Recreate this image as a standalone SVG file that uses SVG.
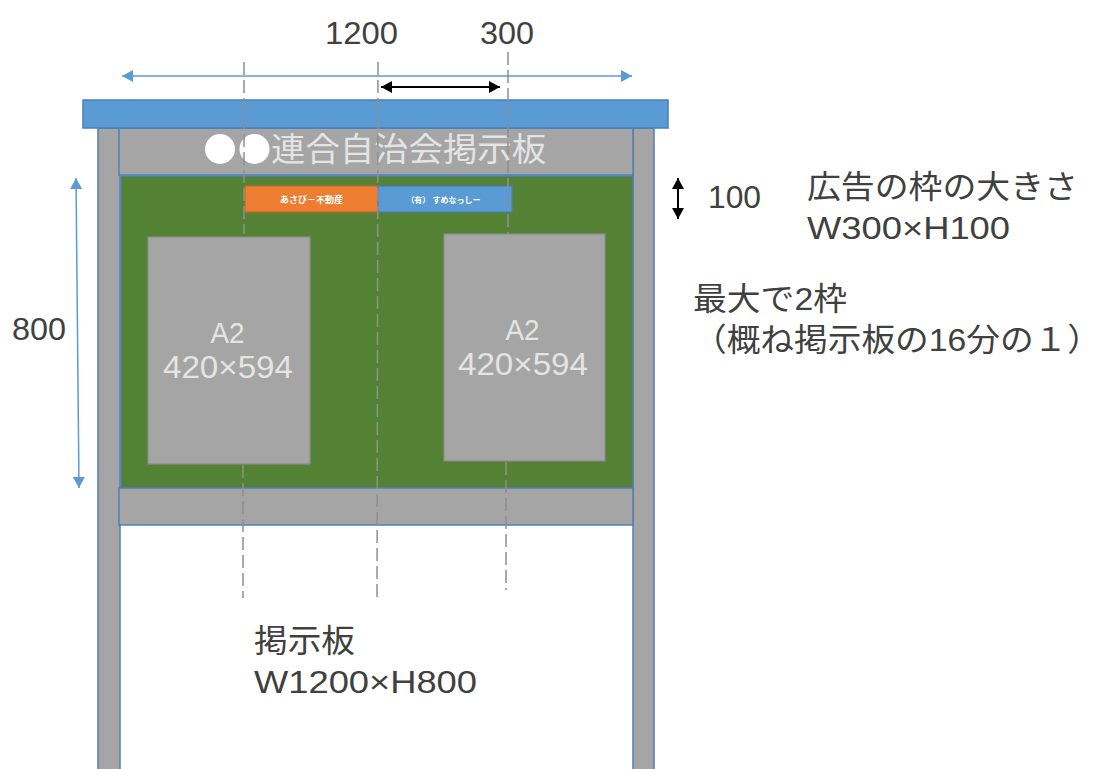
<svg xmlns="http://www.w3.org/2000/svg" width="1093" height="769" viewBox="0 0 1093 769">
<style>
text{font-family:"Liberation Sans","Noto Sans CJK JP",sans-serif}
.p{fill:#a5a5a5;stroke:#4f7fb5;stroke-width:1.5}
.a{fill:#a5a5a5;stroke:#8c8c8c;stroke-width:1.2}
.d{fill:none;stroke:#8f8f8f;stroke-width:1.5;stroke-dasharray:13 5}
.b{fill:none;stroke:#5b9bd5;stroke-width:1.5}
.k{fill:none;stroke:#000;stroke-width:2}
.t{font-size:32px;fill:#404040}
.w{fill:#e4e4e4}
</style>
<defs>
<marker id="bl" markerUnits="userSpaceOnUse" markerWidth="12" markerHeight="12" refX="11" refY="6" orient="auto-start-reverse"><path d="M0 0L11 6L0 12Z" fill="#5b9bd5"/></marker>
<marker id="ka" markerUnits="userSpaceOnUse" markerWidth="12" markerHeight="12" refX="11" refY="6" orient="auto-start-reverse"><path d="M0 0L11 6L0 12Z" fill="#000"/></marker>
</defs>
<rect width="1093" height="769" fill="#fff"/>
<g id="post-left"><rect class="p" x="98" y="128" width="22" height="650"/></g>
<g id="post-right"><rect class="p" x="633" y="128" width="21" height="650"/></g>
<g id="board"><rect x="121" y="176" width="512" height="313" fill="#548235" stroke="#4f7fb5" stroke-width="1.5"/></g>
<g id="header"><rect class="p" x="119" y="128" width="514" height="47"/>
<circle cx="220" cy="149" r="15" fill="#fff"/><circle cx="254.500" cy="149" r="15" fill="#fff"/>
<text x="271" y="161" font-size="33" fill="#e4e4e4" textLength="275" lengthAdjust="spacingAndGlyphs">連合自治会掲示板</text></g>
<g id="roof"><rect x="83" y="100" width="585" height="28" fill="#5b9bd5" stroke="#4a7fb5" stroke-width="1.5"/></g>
<g id="footer"><rect class="p" x="119" y="488" width="514" height="37"/></g>
<g id="ad-orange"><rect x="245" y="186" width="133" height="26" fill="#ed7d31" stroke="#c8692a" stroke-width="1.2"/>
<text x="311.500" y="202.500" font-size="9" font-weight="700" fill="#fff" text-anchor="middle">あさび－不動産</text></g>
<g id="ad-blue"><rect x="378" y="186" width="134" height="26" fill="#5b9bd5" stroke="#4a7fb5" stroke-width="1.2"/>
<text x="443.500" y="202.500" font-size="8" font-weight="700" fill="#fff" text-anchor="middle">（有） すめなっしー</text></g>
<g id="poster-left"><rect class="a" x="148" y="237" width="162" height="227"/>
<text class="w" font-size="30" x="227.500" y="343" text-anchor="middle" textLength="34" lengthAdjust="spacingAndGlyphs">A2</text><text class="w" font-size="31" x="228" y="378" text-anchor="middle" textLength="130" lengthAdjust="spacingAndGlyphs">420×594</text></g>
<g id="poster-right"><rect class="a" x="444" y="234" width="161" height="227"/>
<text class="w" font-size="30" x="522.500" y="340" text-anchor="middle" textLength="34" lengthAdjust="spacingAndGlyphs">A2</text><text class="w" font-size="31" x="523" y="375" text-anchor="middle" textLength="130" lengthAdjust="spacingAndGlyphs">420×594</text></g>
<g id="connectors">
<path class="d" d="M244 62V234"/><path class="d" d="M243 465V598"/>
<path class="d" d="M378 62L377 598"/>
<path class="d" d="M508 52V234"/><path class="d" d="M506 462V590"/>
<path class="b" d="M122 76H632" marker-start="url(#bl)" marker-end="url(#bl)"/>
<path class="b" d="M76 178L79 488" marker-start="url(#bl)" marker-end="url(#bl)"/>
<path class="k" d="M381 87H500" marker-start="url(#ka)" marker-end="url(#ka)"/>
<path class="k" d="M678 178V219" marker-start="url(#ka)" marker-end="url(#ka)"/>
</g>
<g id="labels">
<text class="t" x="325" y="44" textLength="73" lengthAdjust="spacingAndGlyphs">1200</text>
<text class="t" x="480" y="44" textLength="54" lengthAdjust="spacingAndGlyphs">300</text>
<text class="t" x="12" y="340" textLength="54" lengthAdjust="spacingAndGlyphs">800</text>
<text class="t" x="708" y="208" textLength="53" lengthAdjust="spacingAndGlyphs">100</text>
<text class="t" x="807" y="198" textLength="271" lengthAdjust="spacingAndGlyphs">広告の枠の大きさ</text>
<text class="t" x="807" y="239" textLength="203" lengthAdjust="spacingAndGlyphs">W300×H100</text>
<text class="t" x="693" y="310" textLength="154" lengthAdjust="spacingAndGlyphs">最大で2枠</text>
<text class="t" x="693" y="351" textLength="408" lengthAdjust="spacingAndGlyphs">（概ね掲示板の16分の１）</text>
<text class="t" x="254" y="652" textLength="101" lengthAdjust="spacingAndGlyphs">掲示板</text>
<text class="t" x="254" y="693" textLength="223" lengthAdjust="spacingAndGlyphs">W1200×H800</text>
</g>
</svg>
